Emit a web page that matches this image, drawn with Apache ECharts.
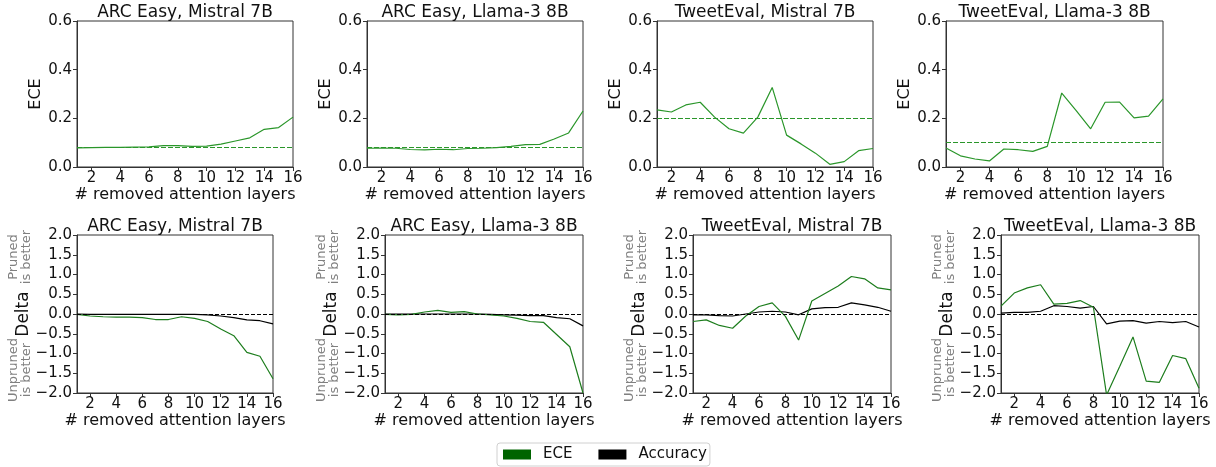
<!DOCTYPE html>
<html>
<head>
<meta charset="utf-8">
<script src="https://cdn.jsdelivr.net/npm/echarts@6/dist/echarts.min.js"></script>
<style>
html,body{margin:0;padding:0;background:#fff;}
#chart{width:1216px;height:467px;}
</style>
</head>
<body>
<div id="chart"></div>
<script>
// ---------- data ----------
const layers = [1,2,3,4,5,6,7,8,9,10,11,12,13,14,15,16];
const xTickValues = [2,4,6,8,10,12,14,16];
const eceTicks = [0, 0.2, 0.4, 0.6];
const deltaTicks = [-2, -1.5, -1, -0.5, 0, 0.5, 1, 1.5, 2];

const panelTitles = ["ARC Easy, Mistral 7B", "ARC Easy, Llama-3 8B", "TweetEval, Mistral 7B", "TweetEval, Llama-3 8B"];

// Top row: ECE of pruned model, and ECE of unpruned model (dashed)
const eceArcMistral   = [0.079,0.080,0.081,0.081,0.082,0.083,0.088,0.088,0.085,0.086,0.094,0.107,0.120,0.155,0.162,0.205];
const eceArcLlama     = [0.077,0.078,0.077,0.072,0.070,0.073,0.071,0.076,0.077,0.080,0.085,0.092,0.093,0.115,0.140,0.230];
const eceTweetMistral = [0.235,0.226,0.255,0.266,0.205,0.157,0.139,0.205,0.327,0.131,0.095,0.057,0.011,0.022,0.067,0.076];
const eceTweetLlama   = [0.078,0.046,0.033,0.025,0.074,0.071,0.064,0.085,0.304,0.232,0.157,0.266,0.267,0.202,0.209,0.280];
const eceUnpruned     = [0.079, 0.076, 0.197, 0.098];

// Bottom row: delta (pruned vs unpruned) for ECE and accuracy
const dEceArcMistral   = [-0.01,-0.05,-0.07,-0.08,-0.08,-0.09,-0.14,-0.14,-0.07,-0.11,-0.19,-0.38,-0.55,-0.97,-1.07,-1.64];
const dAccArcMistral   = [0.00,-0.01,-0.01,-0.01,-0.01,-0.01,-0.01,-0.01,-0.01,-0.01,-0.02,-0.05,-0.09,-0.15,-0.17,-0.25];
const dEceArcLlama     = [-0.01,-0.02,-0.01,0.05,0.09,0.04,0.06,0.00,-0.02,-0.05,-0.11,-0.19,-0.21,-0.52,-0.83,-2.00];
const dAccArcLlama     = [0.00,0.00,0.00,0.00,0.00,0.00,0.00,0.00,-0.01,-0.02,-0.03,-0.04,-0.04,-0.09,-0.12,-0.30];
const dEceTweetMistral = [-0.19,-0.15,-0.29,-0.36,-0.05,0.19,0.28,-0.06,-0.66,0.33,0.52,0.71,0.95,0.89,0.66,0.61];
const dAccTweetMistral = [-0.02,-0.02,-0.04,-0.05,0.00,0.05,0.07,0.05,-0.02,0.13,0.16,0.17,0.28,0.23,0.17,0.07];
const dEceTweetLlama   = [0.20,0.53,0.66,0.74,0.25,0.27,0.34,0.17,-2.05,-1.32,-0.58,-1.70,-1.73,-1.05,-1.13,-1.88];
const dAccTweetLlama   = [0.02,0.04,0.04,0.07,0.21,0.19,0.15,0.19,-0.25,-0.18,-0.17,-0.23,-0.19,-0.22,-0.19,-0.33];

const topSeries = [eceArcMistral, eceArcLlama, eceTweetMistral, eceTweetLlama];
const botEce = [dEceArcMistral, dEceArcLlama, dEceTweetMistral, dEceTweetLlama];
const botAcc = [dAccArcMistral, dAccArcLlama, dAccTweetMistral, dAccTweetLlama];

// ---------- layout ----------
const FONT = 'DejaVu Sans';
const topGrids = [
  {left: 77, top: 21, width: 216, height: 146},
  {left: 367, top: 21, width: 216, height: 146},
  {left: 657, top: 21, width: 216, height: 146},
  {left: 946, top: 21, width: 217, height: 146}
];
const botGrids = [
  {left: 77, top: 235, width: 196, height: 158},
  {left: 385, top: 235, width: 198, height: 158},
  {left: 693, top: 235, width: 198, height: 158},
  {left: 1001, top: 235, width: 198, height: 158}
];
const TOP_GREEN = '#2a962a';
const BOT_GREEN = '#1d7d1d';
const SPINE = '#333';
const TICK_FS = 15;

const fmt = v => {
  const s = Math.abs(v).toFixed(1);
  return v < -1e-9 ? '\u2212' + s : s;
};

const grids = [], xAxes = [], yAxes = [], series = [], titles = [], graphics = [];

function addXAxis(gi) {
  xAxes.push({
    type: 'value', gridIndex: gi, min: 1, max: 16, interval: 1,
    name: '# removed attention layers', nameLocation: 'middle', nameGap: 19,
    nameTextStyle: {fontFamily: FONT, fontSize: 16, color: '#111'},
    axisLine: {show: true, onZero: false, lineStyle: {color: SPINE, width: 1}},
    axisTick: {show: true, inside: false, length: 4, lineStyle: {color: SPINE}, customValues: xTickValues},
    axisLabel: {fontFamily: FONT, fontSize: TICK_FS, color: '#111', margin: 4, customValues: xTickValues},
    splitLine: {show: false}
  });
}

topGrids.forEach((g, i) => {
  const gi = grids.length;
  grids.push(Object.assign({show: true, borderColor: SPINE, borderWidth: 1, containLabel: false}, g));
  addXAxis(gi);
  yAxes.push({
    type: 'value', gridIndex: gi, min: eceTicks[0], max: eceTicks[eceTicks.length - 1], interval: 0.2,
    name: 'ECE', nameLocation: 'middle', nameGap: 27, nameRotate: 90,
    nameTextStyle: {fontFamily: FONT, fontSize: 16, color: '#111'},
    axisLine: {show: true, lineStyle: {color: SPINE, width: 1}},
    axisTick: {show: true, inside: false, length: 4, lineStyle: {color: SPINE}},
    axisLabel: {fontFamily: FONT, fontSize: TICK_FS, color: '#111', margin: 5, formatter: fmt},
    splitLine: {show: false}
  });
  series.push({
    type: 'line', name: 'ECE', xAxisIndex: gi, yAxisIndex: gi,
    data: layers.map((x, k) => [x, topSeries[i][k]]),
    showSymbol: false, symbol: 'none', lineStyle: {color: TOP_GREEN, width: 1.2}, itemStyle: {color: TOP_GREEN},
    clip: true, silent: true,
    markLine: {
      silent: true, symbol: ['none', 'none'], label: {show: false},
      lineStyle: {color: TOP_GREEN, type: [5, 2], width: 1.2},
      data: [{yAxis: eceUnpruned[i]}]
    }
  });
  titles.push({
    text: panelTitles[i], left: g.left + g.width / 2, top: 4, textAlign: 'center', padding: 0,
    textStyle: {fontFamily: FONT, fontSize: 17, fontWeight: 'normal', color: '#111'}
  });
});

botGrids.forEach((g, i) => {
  const gi = grids.length;
  grids.push(Object.assign({show: true, borderColor: SPINE, borderWidth: 1, containLabel: false}, g));
  addXAxis(gi);
  yAxes.push({
    type: 'value', gridIndex: gi, min: deltaTicks[0], max: deltaTicks[deltaTicks.length - 1], interval: 0.5,
    name: 'Delta', nameLocation: 'middle', nameGap: 43, nameRotate: 90,
    nameTextStyle: {fontFamily: FONT, fontSize: 17, color: '#111'},
    axisLine: {show: true, onZero: false, lineStyle: {color: SPINE, width: 1}},
    axisTick: {show: true, inside: false, length: 4, lineStyle: {color: SPINE}},
    axisLabel: {fontFamily: FONT, fontSize: TICK_FS, color: '#111', margin: 5, formatter: fmt},
    splitLine: {show: false}
  });
  series.push({
    type: 'line', name: 'Accuracy', xAxisIndex: gi, yAxisIndex: gi,
    data: layers.map((x, k) => [x, botAcc[i][k]]),
    showSymbol: false, symbol: 'none', lineStyle: {color: '#000', width: 1.2}, itemStyle: {color: '#000'},
    clip: true, silent: true,
    markLine: {
      silent: true, symbol: ['none', 'none'], label: {show: false},
      lineStyle: {color: '#000', type: [4, 2], width: 1},
      data: [{yAxis: 0}]
    }
  });
  series.push({
    type: 'line', name: 'ECE', xAxisIndex: gi, yAxisIndex: gi,
    data: layers.map((x, k) => [x, botEce[i][k]]),
    showSymbol: false, symbol: 'none', lineStyle: {color: BOT_GREEN, width: 1.2}, itemStyle: {color: BOT_GREEN},
    clip: true, silent: true
  });
  titles.push({
    text: panelTitles[i], left: g.left + g.width / 2, top: 218, textAlign: 'center', padding: 0,
    textStyle: {fontFamily: FONT, fontSize: 17, fontWeight: 'normal', color: '#111'}
  });
  graphics.push({
    type: 'text', x: g.left - 57, y: 257, rotation: Math.PI / 2,
    style: {text: 'Pruned\nis better', fontFamily: FONT, fontSize: 13, fill: '#808080',
            textAlign: 'center', textVerticalAlign: 'middle', lineHeight: 13}
  });
  graphics.push({
    type: 'text', x: g.left - 57, y: 370, rotation: Math.PI / 2,
    style: {text: 'Unpruned\nis better', fontFamily: FONT, fontSize: 13, fill: '#808080',
            textAlign: 'center', textVerticalAlign: 'middle', lineHeight: 13}
  });
});

const chart = echarts.init(document.getElementById('chart'), null, {renderer: 'canvas'});
chart.setOption({
  animation: false,
  backgroundColor: '#fff',
  title: titles,
  grid: grids,
  xAxis: xAxes,
  yAxis: yAxes,
  series: series,
  graphic: graphics,
  legend: {
    left: 497, top: 443, orient: 'horizontal',
    padding: [4, 3, 4, 6], itemGap: 26, itemWidth: 28, itemHeight: 10,
    borderColor: '#d0d0d0', borderWidth: 1, borderRadius: 3,
    selectedMode: false,
    textStyle: {fontFamily: FONT, fontSize: 15, color: '#111', padding: [0, 0, 0, 7]},
    data: [
      {name: 'ECE', icon: 'rect', itemStyle: {color: '#006400'}},
      {name: 'Accuracy', icon: 'rect', itemStyle: {color: '#000'}}
    ]
  }
});
</script>
</body>
</html>
